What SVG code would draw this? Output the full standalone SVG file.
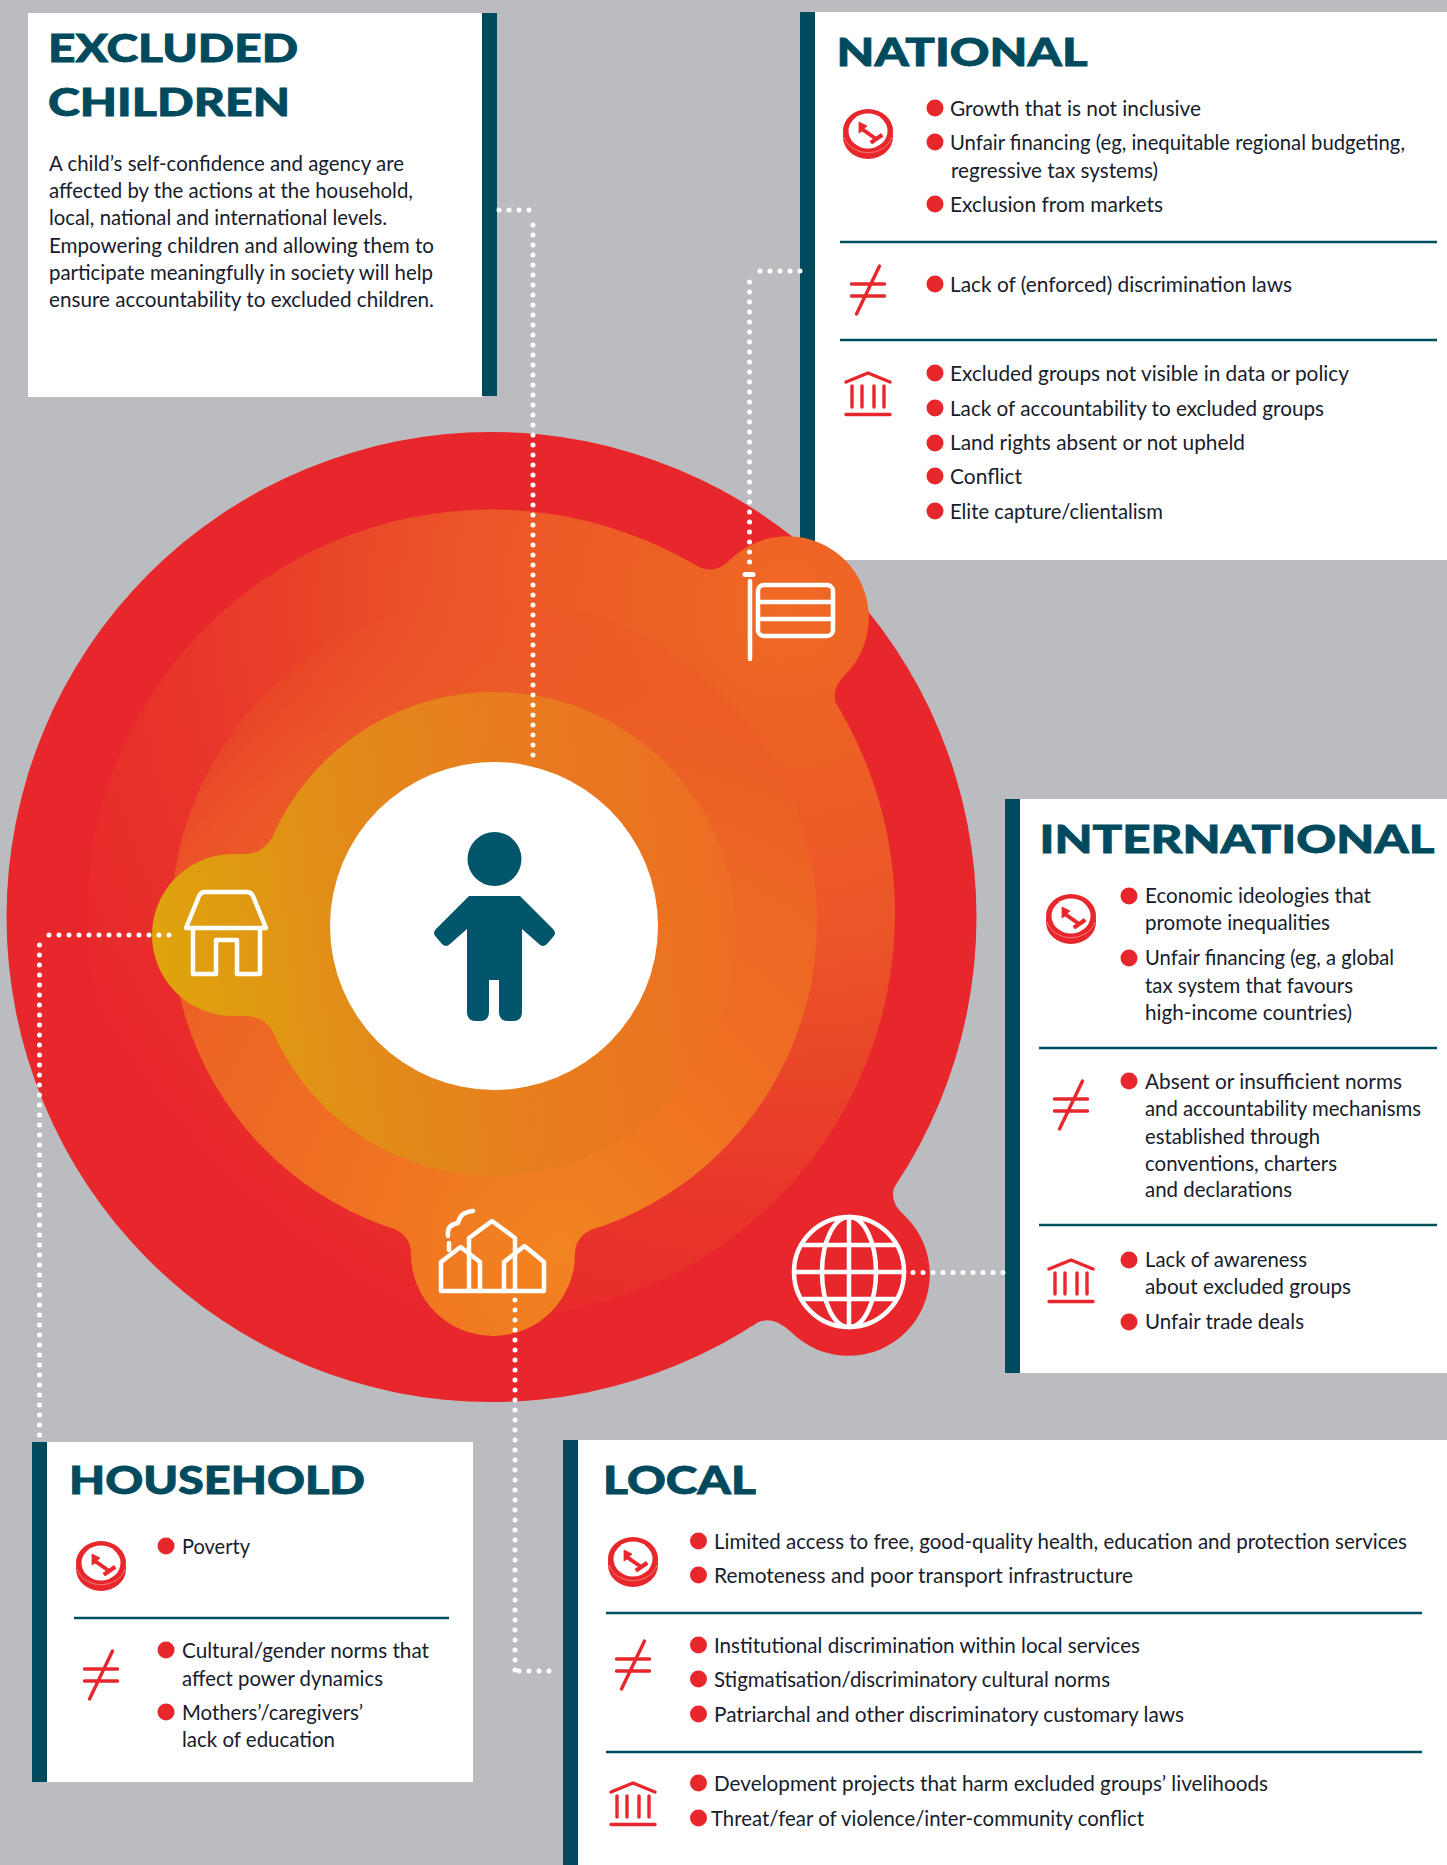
<svg xmlns="http://www.w3.org/2000/svg" xmlns:xlink="http://www.w3.org/1999/xlink" width="1447" height="1865" viewBox="0 0 1447 1865">
<style>
.panel{fill:#fff}.bar{fill:#004a5e}
.title{font:900 38px Lato,"Liberation Sans",sans-serif;fill:#004a5e;stroke:#004a5e;stroke-width:.8}
.t{font:400 20.5px Lato,"Liberation Sans",sans-serif;fill:#16202c}
.b{fill:#e8272c}
.rule{stroke:#00505f;stroke-width:2.5;fill:none}
.dots{fill:none;stroke:#fff;stroke-width:5;stroke-linecap:round;stroke-dasharray:0 10}
.ic{fill:none;stroke:#fff;stroke-width:4.5;stroke-linejoin:round;stroke-linecap:round}
.rl{fill:none;stroke:#e8272c;stroke-width:3.4;stroke-linecap:round;stroke-linejoin:round}
</style>
<defs>
<g id="coin">
<ellipse cx="0" cy="3" rx="25" ry="22" fill="#e8272c"/>
<ellipse cx="0" cy="-3" rx="25" ry="22" fill="#e8272c"/>
<path d="M-24,3 A25,22 0 0 0 24,3" fill="none" stroke="#f27a7c" stroke-width="1"/>
<ellipse cx="0" cy="-3" rx="19.500" ry="17.500" fill="#fff"/>
<path d="M-9,-12 L-1,-8 L-4,-5.500 L8,3 L13,-0.500 L15,2.500 L4,10 L2,7 L5.500,5 L-6,-3 L-9,-1 Z" fill="#e8272c" stroke="#e8272c" stroke-width=".8" stroke-linejoin="round"/>
</g>
<g id="neq" class="rl">
<path d="M-16.500,-6H16.500M-16.500,6H16.500M11.500,-24L-11.500,24"/>
</g>
<g id="bank" class="rl">
<path d="M-22,-12L0,-21L22,-12M-16,-8V13M-6,-8V13M6,-8V13M16,-8V13M-22,20.500H22"/>
</g>
<radialGradient id="g2" gradientUnits="userSpaceOnUse" cx="785" cy="610" r="800">
<stop offset="0" stop-color="#ef6a24"/><stop offset=".12" stop-color="#ee6325"/><stop offset=".4" stop-color="#eb5628"/><stop offset=".75" stop-color="#e8352a"/><stop offset="1" stop-color="#e8272c"/>
</radialGradient>
<radialGradient id="g3" gradientUnits="userSpaceOnUse" cx="560" cy="1250" r="760">
<stop offset="0" stop-color="#f28420"/><stop offset=".3" stop-color="#ef7022"/><stop offset=".55" stop-color="#ed6824" stop-opacity=".95"/><stop offset=".72" stop-color="#ec5c27" stop-opacity=".75"/><stop offset=".9" stop-color="#ea5529" stop-opacity="0"/>
</radialGradient>
<linearGradient id="g4" gradientUnits="userSpaceOnUse" x1="150" y1="935" x2="760" y2="850">
<stop offset="0" stop-color="#dfa40c"/><stop offset=".35" stop-color="#e28a1a"/><stop offset=".6" stop-color="#e87d1e"/><stop offset="1" stop-color="#ed6b24"/>
</linearGradient>
</defs>
<rect id="background" width="1447" height="1865" fill="#bbbcc0"/>

<g id="excluded-children">
<rect class="panel" x="28" y="13" width="455" height="384"/><rect class="bar" x="482" y="13" width="15" height="383"/>
<text class="title" x="48" y="62" textLength="250" lengthAdjust="spacingAndGlyphs">EXCLUDED</text>
<text class="title" x="48" y="116" textLength="242" lengthAdjust="spacingAndGlyphs">CHILDREN</text>
<text class="t" x="49" y="171" textLength="355" lengthAdjust="spacingAndGlyphs">A child’s self-confidence and agency are</text>
<text class="t" x="49" y="198" textLength="364" lengthAdjust="spacingAndGlyphs">affected by the actions at the household,</text>
<text class="t" x="49" y="225" textLength="338" lengthAdjust="spacingAndGlyphs">local, national and international levels.</text>
<text class="t" x="49" y="253" textLength="385" lengthAdjust="spacingAndGlyphs">Empowering children and allowing them to</text>
<text class="t" x="49" y="280" textLength="384" lengthAdjust="spacingAndGlyphs">participate meaningfully in society will help</text>
<text class="t" x="49" y="307" textLength="385" lengthAdjust="spacingAndGlyphs">ensure accountability to excluded children.</text>
</g>

<g id="national">
<rect class="panel" x="815" y="12" width="632" height="548"/><rect class="bar" x="800" y="12" width="15" height="548"/>
<text class="title" x="836.500" y="66" textLength="251" lengthAdjust="spacingAndGlyphs">NATIONAL</text>
<use xlink:href="#coin" href="#coin" x="868" y="134"/><use xlink:href="#neq" href="#neq" x="868" y="290"/><use xlink:href="#bank" href="#bank" x="868" y="394"/>
<path class="rule" d="M840,242H1437M840,340H1437"/>
<circle class="b" cx="935" cy="108" r="8.500"/><circle class="b" cx="935" cy="142" r="8.500"/><circle class="b" cx="935" cy="204" r="8.500"/><circle class="b" cx="935" cy="284" r="8.500"/><circle class="b" cx="935" cy="373" r="8.500"/><circle class="b" cx="935" cy="408" r="8.500"/><circle class="b" cx="935" cy="443" r="8.500"/><circle class="b" cx="935" cy="476" r="8.500"/><circle class="b" cx="935" cy="511" r="8.500"/>
<text class="t" x="950" y="116" textLength="251" lengthAdjust="spacingAndGlyphs">Growth that is not inclusive</text>
<text class="t" x="950" y="150" textLength="455" lengthAdjust="spacingAndGlyphs">Unfair financing (eg, inequitable regional budgeting,</text>
<text class="t" x="951" y="178" textLength="207" lengthAdjust="spacingAndGlyphs">regressive tax systems)</text>
<text class="t" x="950" y="212" textLength="213" lengthAdjust="spacingAndGlyphs">Exclusion from markets</text>
<text class="t" x="950" y="292" textLength="342" lengthAdjust="spacingAndGlyphs">Lack of (enforced) discrimination laws</text>
<text class="t" x="950" y="381" textLength="399" lengthAdjust="spacingAndGlyphs">Excluded groups not visible in data or policy</text>
<text class="t" x="950" y="416" textLength="374" lengthAdjust="spacingAndGlyphs">Lack of accountability to excluded groups</text>
<text class="t" x="950" y="450" textLength="295" lengthAdjust="spacingAndGlyphs">Land rights absent or not upheld</text>
<text class="t" x="950" y="484" textLength="72" lengthAdjust="spacingAndGlyphs">Conflict</text>
<text class="t" x="950" y="519" textLength="213" lengthAdjust="spacingAndGlyphs">Elite capture/clientalism</text>
</g>

<g id="international">
<rect class="panel" x="1020" y="799" width="427" height="574"/><rect class="bar" x="1005" y="799" width="15" height="574"/>
<text class="title" x="1039.500" y="853" textLength="395" lengthAdjust="spacingAndGlyphs">INTERNATIONAL</text>
<use xlink:href="#coin" href="#coin" x="1071" y="919"/><use xlink:href="#neq" href="#neq" x="1071" y="1105"/><use xlink:href="#bank" href="#bank" x="1071" y="1281"/>
<path class="rule" d="M1039,1048H1437M1039,1225H1437"/>
<circle class="b" cx="1129" cy="896" r="8.500"/><circle class="b" cx="1129" cy="958" r="8.500"/><circle class="b" cx="1129" cy="1081" r="8.500"/><circle class="b" cx="1129" cy="1260" r="8.500"/><circle class="b" cx="1129" cy="1322" r="8.500"/>
<text class="t" x="1145" y="903" textLength="226" lengthAdjust="spacingAndGlyphs">Economic ideologies that</text>
<text class="t" x="1145" y="930" textLength="185" lengthAdjust="spacingAndGlyphs">promote inequalities</text>
<text class="t" x="1145" y="965" textLength="249" lengthAdjust="spacingAndGlyphs">Unfair financing (eg, a global</text>
<text class="t" x="1145" y="993" textLength="208" lengthAdjust="spacingAndGlyphs">tax system that favours</text>
<text class="t" x="1145" y="1020" textLength="207" lengthAdjust="spacingAndGlyphs">high-income countries)</text>
<text class="t" x="1145" y="1089" textLength="257" lengthAdjust="spacingAndGlyphs">Absent or insufficient norms</text>
<text class="t" x="1145" y="1116" textLength="276" lengthAdjust="spacingAndGlyphs">and accountability mechanisms</text>
<text class="t" x="1145" y="1144" textLength="175" lengthAdjust="spacingAndGlyphs">established through</text>
<text class="t" x="1145" y="1171" textLength="192" lengthAdjust="spacingAndGlyphs">conventions, charters</text>
<text class="t" x="1145" y="1197" textLength="147" lengthAdjust="spacingAndGlyphs">and declarations</text>
<text class="t" x="1145" y="1267" textLength="162" lengthAdjust="spacingAndGlyphs">Lack of awareness</text>
<text class="t" x="1145" y="1294" textLength="206" lengthAdjust="spacingAndGlyphs">about excluded groups</text>
<text class="t" x="1145" y="1329" textLength="159" lengthAdjust="spacingAndGlyphs">Unfair trade deals</text>
</g>

<g id="household">
<rect class="panel" x="47" y="1442" width="426" height="340"/><rect class="bar" x="32" y="1442" width="15" height="340"/>
<text class="title" x="69" y="1494" textLength="296" lengthAdjust="spacingAndGlyphs">HOUSEHOLD</text>
<use xlink:href="#coin" href="#coin" x="101" y="1566"/><use xlink:href="#neq" href="#neq" x="101" y="1675"/>
<path class="rule" d="M74,1618H449"/>
<circle class="b" cx="166" cy="1546" r="8.500"/><circle class="b" cx="166" cy="1650" r="8.500"/><circle class="b" cx="166" cy="1712" r="8.500"/>
<text class="t" x="182" y="1554" textLength="68" lengthAdjust="spacingAndGlyphs">Poverty</text>
<text class="t" x="182" y="1658" textLength="247" lengthAdjust="spacingAndGlyphs">Cultural/gender norms that</text>
<text class="t" x="182" y="1686" textLength="201" lengthAdjust="spacingAndGlyphs">affect power dynamics</text>
<text class="t" x="182" y="1720" textLength="181" lengthAdjust="spacingAndGlyphs">Mothers’/caregivers’</text>
<text class="t" x="182" y="1747" textLength="153" lengthAdjust="spacingAndGlyphs">lack of education</text>
</g>

<g id="local">
<rect class="panel" x="578" y="1440" width="869" height="425"/><rect class="bar" x="563" y="1440" width="15" height="425"/>
<text class="title" x="603" y="1494" textLength="153" lengthAdjust="spacingAndGlyphs">LOCAL</text>
<use xlink:href="#coin" href="#coin" x="633" y="1562"/><use xlink:href="#neq" href="#neq" x="633" y="1665"/><use xlink:href="#bank" href="#bank" x="633" y="1804"/>
<path class="rule" d="M606,1613H1422M606,1752H1422"/>
<circle class="b" cx="698.500" cy="1541" r="8.500"/><circle class="b" cx="698.500" cy="1575" r="8.500"/><circle class="b" cx="698.500" cy="1645" r="8.500"/><circle class="b" cx="698.500" cy="1679" r="8.500"/><circle class="b" cx="698.500" cy="1714" r="8.500"/><circle class="b" cx="698.500" cy="1783" r="8.500"/><circle class="b" cx="698.500" cy="1818" r="8.500"/>
<text class="t" x="714" y="1549" textLength="693" lengthAdjust="spacingAndGlyphs">Limited access to free, good-quality health, education and protection services</text>
<text class="t" x="714" y="1583" textLength="419" lengthAdjust="spacingAndGlyphs">Remoteness and poor transport infrastructure</text>
<text class="t" x="714" y="1653" textLength="426" lengthAdjust="spacingAndGlyphs">Institutional discrimination within local services</text>
<text class="t" x="714" y="1687" textLength="396" lengthAdjust="spacingAndGlyphs">Stigmatisation/discriminatory cultural norms</text>
<text class="t" x="714" y="1722" textLength="470" lengthAdjust="spacingAndGlyphs">Patriarchal and other discriminatory customary laws</text>
<text class="t" x="714" y="1791" textLength="554" lengthAdjust="spacingAndGlyphs">Development projects that harm excluded groups’ livelihoods</text>
<text class="t" x="711" y="1826" textLength="433" lengthAdjust="spacingAndGlyphs">Threat/fear of violence/inter-community conflict</text>
</g>

<g id="rings">
<g fill="#e8272c">
<circle cx="491.500" cy="917" r="485"/>
<path d="M899,1179 Q884,1198 906,1217 A81,81 0 0 1 791,1332 Q770,1312 752,1326 L700,1200 Z"/>
</g>
<g fill="url(#g2)">
<circle cx="491" cy="913.500" r="404"/>
<path d="M690,562 Q712,578 730,560 A81,81 0 0 1 845,675 Q826,694 842,713 L600,800 Z"/>
</g>
<g fill="url(#g3)">
<path d="M385,1226 A323,323 0 1 1 603,1226 Q575,1232 575,1254 A82,82 0 0 1 411,1254 Q411,1232 385,1226 Z"/>
</g>
<g fill="url(#g4)">
<path d="M272,838 A242,242 0 1 1 272,1030 Q262,1016 245,1016 L233,1016 A81,81 0 0 1 233,854 L245,854 Q262,854 272,838 Z"/>
</g>
</g>

<g id="connectors">
<path class="dots" d="M499,210H535"/>
<path class="dots" d="M533,225V765"/>
<path class="dots" d="M800,271H750"/>
<path class="dots" d="M749.500,282V565"/>
<path class="dots" d="M169,935H39"/>
<path class="dots" d="M39.500,945V1436"/>
<path class="dots" d="M515,1300V1671"/>
<path class="dots" d="M519,1671H559"/>
<path class="dots" d="M913,1272.500H1004"/>
</g>

<g id="child">
<circle cx="494" cy="926" r="164" fill="#fff"/>
<circle cx="494.500" cy="859" r="27" fill="#02566b"/>
<path fill="#02566b" d="M469,896H520L553,929Q557,933 553,937L547,944Q543,948 539,944L522,929V1012Q522,1021 513,1021H508Q499,1021 499,1012V980H489V1012Q489,1021 480,1021H476Q467,1021 467,1012V929L450,944Q446,948 442,944L436,937Q432,933 436,929Z"/>
</g>

<g id="node-flag" class="ic">
<path d="M745,574.500H753" stroke-width="5"/>
<path d="M750,581V659"/>
<rect x="758" y="585" width="75" height="51" rx="6"/>
<path d="M758,602H833M758,619H833"/>
</g>
<g id="node-house" class="ic">
<path d="M186,928L199,896Q201,892 205,892H247Q251,892 253,896L266,928Z"/>
<path d="M193,928V974H216V940H237V974H260V928"/>
</g>
<g id="node-city" class="ic">
<path d="M441,1291H544M441,1291V1262L460.500,1247L480,1262V1291M469,1291V1238L492,1221L515,1238V1291M504,1291V1262L524.500,1246L544,1262V1291"/>
<path d="M449,1243V1250M448,1236C447,1228 451,1224 458,1223C460,1215 464,1212 473,1211"/>
</g>
<g id="node-globe" class="ic">
<ellipse cx="849" cy="1272" rx="55" ry="55"/>
<ellipse cx="849" cy="1272" rx="27" ry="55"/>
<path d="M849,1217V1327M794,1272H904M803,1245H895M803,1299H895"/>
</g>
</svg>
